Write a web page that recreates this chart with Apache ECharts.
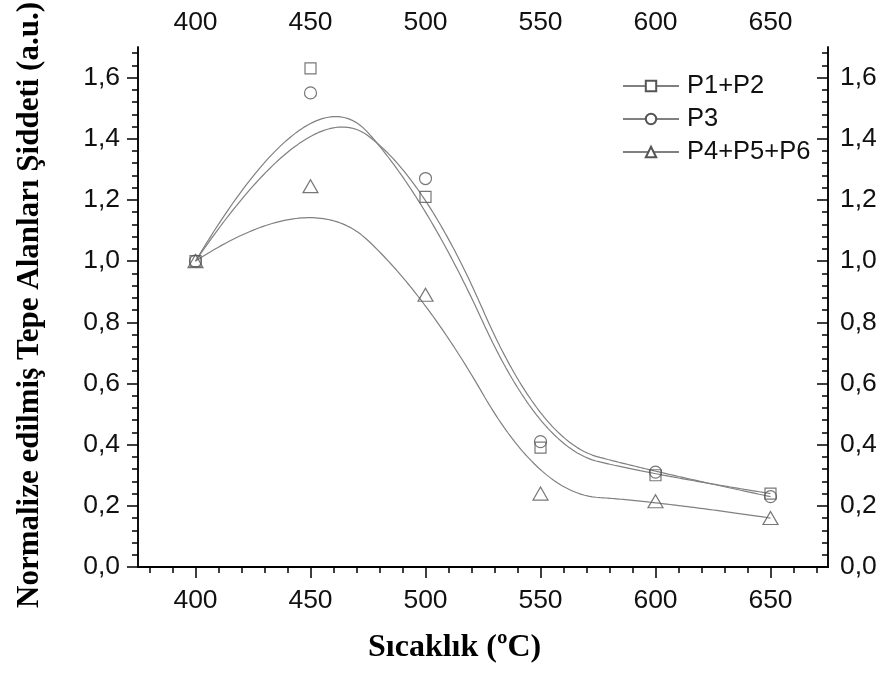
<!DOCTYPE html>
<html>
<head>
<meta charset="utf-8">
<script src="https://cdn.jsdelivr.net/npm/echarts@6/dist/echarts.min.js"></script>
<style>
  html, body { margin: 0; padding: 0; background: #fff; }
  #chart { width: 881px; height: 675px; }
</style>
</head>
<body>
<div id="chart"></div>
<script>
// Measured normalised peak-area intensities vs. temperature
const temps = [400, 450, 500, 550, 600, 650];
const p12 = [1.00, 1.63, 1.21, 0.39, 0.30, 0.24];
const p3 = [1.00, 1.55, 1.27, 0.41, 0.31, 0.23];
const p456 = [1.00, 1.245, 0.89, 0.24, 0.215, 0.16];

const seriesNames = ['P1+P2', 'P3', 'P4+P5+P6'];
const xTickValues = [400, 450, 500, 550, 600, 650];
const yTickValues = [0, 0.2, 0.4, 0.6, 0.8, 1.0, 1.2, 1.4, 1.6];

const xTitle = 'Sıcaklık (ºC)';
const yTitle = 'Normalize edilmiş Tepe Alanları Şiddeti (a.u.)';

const X_MIN = 375, X_MAX = 675, Y_MIN = 0, Y_MAX = 1.7;

// minor ticks: every 10 on x, every 0.04 on y
const xMinor = [];
for (let v = 380; v <= 670; v += 10) if (v % 50 !== 0) xMinor.push(v);
const yMinor = [];
for (let i = 1; i <= 42; i++) if (i % 5 !== 0) yMinor.push(+(i * 0.04).toFixed(2));

// Clamped quadratic B-spline using the measured points as control points
function bspline(xs, ys, degree, steps) {
  const n = xs.length;
  const knots = [];
  for (let i = 0; i <= degree; i++) knots.push(0);
  for (let i = 1; i <= n - degree - 1; i++) knots.push(i);
  const tMax = n - degree;
  for (let i = 0; i <= degree; i++) knots.push(tMax);
  function basis(i, p, t) {
    if (p === 0) {
      if (t === tMax) return (knots[i] < t && knots[i + 1] === t) ? 1 : 0;
      return (knots[i] <= t && t < knots[i + 1]) ? 1 : 0;
    }
    let a = 0, b = 0;
    const d1 = knots[i + p] - knots[i];
    const d2 = knots[i + p + 1] - knots[i + 1];
    if (d1 > 0) a = (t - knots[i]) / d1 * basis(i, p - 1, t);
    if (d2 > 0) b = (knots[i + p + 1] - t) / d2 * basis(i + 1, p - 1, t);
    return a + b;
  }
  const out = [];
  for (let s = 0; s <= steps; s++) {
    const t = tMax * s / steps;
    let x = 0, y = 0;
    for (let i = 0; i < n; i++) {
      const w = basis(i, degree, t);
      x += w * xs[i];
      y += w * ys[i];
    }
    out.push([x, y]);
  }
  return out;
}

const groups = [
  { name: seriesNames[0], values: p12, symbol: 'rect', size: 11 },
  { name: seriesNames[1], values: p3, symbol: 'circle', size: 12 },
  { name: seriesNames[2], values: p456, symbol: 'triangle', size: [15, 13] }
];

const LINE = '#808080';
const MARK = '#555555';
const labelFont = 'Liberation Sans, Arial, sans-serif';
const titleFont = 'Liberation Serif, Times New Roman, serif';
const LABEL_SIZE = 26.5;

const series = [];
groups.forEach(g => {
  series.push({
    name: g.name,
    type: 'line',
    data: bspline(temps, g.values, 2, 240),
    showSymbol: false,
    symbol: g.symbol,
    symbolSize: g.size,
    itemStyle: { color: '#fff', borderColor: MARK, borderWidth: 1.2 },
    lineStyle: { color: LINE, width: 1.2 },
    silent: true,
    z: 2
  });
});
groups.forEach(g => {
  series.push({
    name: g.name,
    type: 'scatter',
    data: temps.map((t, i) => [t, g.values[i]]),
    symbol: g.symbol,
    symbolSize: g.size,
    itemStyle: { color: 'rgba(255,255,255,0)', borderColor: MARK, borderWidth: 1.2 },
    z: 3
  });
});

const axisLineStyle = { show: true, lineStyle: { color: '#000', width: 1.5 } };
const fmtY = v => v.toFixed(1).replace('.', ',');

function xAxisDef(pos, inside, len, values, withLabels) {
  return {
    type: 'value', position: pos, min: X_MIN, max: X_MAX,
    axisLine: axisLineStyle,
    axisTick: { show: true, inside: inside, length: len, customValues: values, lineStyle: { color: '#000', width: 1.5 } },
    axisLabel: withLabels ? { show: true, customValues: values, fontSize: LABEL_SIZE, fontFamily: labelFont, color: '#111', margin: pos === 'bottom' ? 20 : 11 } : { show: false },
    splitLine: { show: false }
  };
}
function yAxisDef(pos, inside, len, values, withLabels) {
  return {
    type: 'value', position: pos, min: Y_MIN, max: Y_MAX,
    axisLine: axisLineStyle,
    axisTick: { show: true, inside: inside, length: len, customValues: values, lineStyle: { color: '#000', width: 1.5 } },
    axisLabel: withLabels ? { show: true, customValues: values, formatter: fmtY, fontSize: LABEL_SIZE, fontFamily: labelFont, color: '#111', margin: pos === 'left' ? 18 : 12 } : { show: false },
    splitLine: { show: false }
  };
}

const option = {
  animation: false,
  backgroundColor: '#fff',
  grid: { left: 138, top: 47, right: 53, bottom: 108, containLabel: false },
  legend: {
    orient: 'vertical',
    left: 617, top: 68,
    itemWidth: 56, itemHeight: 13, itemGap: 7,
    data: seriesNames,
    textStyle: { fontSize: 25.5, fontFamily: labelFont, color: '#111', lineHeight: 25, padding: [0, 0, 0, 3] },
    selectedMode: false
  },
  graphic: [
    {
      type: 'text', left: 368, top: 632,
      style: { text: xTitle, font: 'bold 32px ' + titleFont, fill: '#000' }
    },
    {
      type: 'text', x: 14, y: 305, rotation: Math.PI / 2,
      style: { text: yTitle, font: 'bold 31px ' + titleFont, fill: '#000', align: 'center', verticalAlign: 'top' }
    }
  ],
  xAxis: [
    xAxisDef('bottom', false, 11, xTickValues, true),
    xAxisDef('bottom', false, 6, xMinor, false),
    xAxisDef('top', true, 11, xTickValues, true),
    xAxisDef('top', true, 6, xMinor, false)
  ],
  yAxis: [
    yAxisDef('left', false, 11, yTickValues, true),
    yAxisDef('left', false, 6, yMinor, false),
    yAxisDef('right', true, 11, yTickValues, true),
    yAxisDef('right', true, 6, yMinor, false)
  ],
  series: series
};

const chart = echarts.init(document.getElementById('chart'), null, { renderer: 'canvas' });
chart.setOption(option);
</script>
</body>
</html>
